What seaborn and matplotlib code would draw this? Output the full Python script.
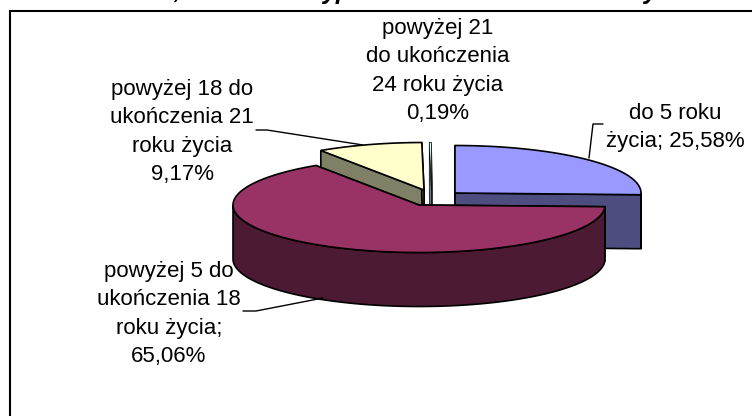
import numpy as np
import seaborn as sns
import matplotlib.pyplot as plt

groups = ['do 5 roku\nżycia; 25,58%',
          'powyżej 5 do\nukończenia 18\nroku życia;\n65,06%',
          'powyżej 18 do\nukończenia 21\nroku życia\n9,17%',
          'powyżej 21\ndo ukończenia\n24 roku życia\n0,19%']
shares = [25.58, 65.06, 9.17, 0.19]
top_colors = ['#9999FF', '#993366', '#FFFFCC', '#CCFFFF']
side_colors = ['#4D4D80', '#4D1A33', '#808066', '#668080']
edge_widths = [1.2, 1.2, 1.2, 0.5]

# only the tails of the cropped title are left in the picture
title_bits = [',', 'yp', 'y']
title_x = [177, 337, 650]

# exploded slice centres, in pixels
centers = [(455, 193), (419, 205), (424, 190), (431.5, 190)]
label_pos = [(675, 127.5), (169, 314), (182, 132), (438, 71)]
leaders = [[(589, 158), (593, 124), (603, 124)],
           [(243, 311), (256, 311), (323, 298)],
           [(256, 130), (267, 130), (363, 145)]]

RX, RY, DEPTH = 186, 47.5, 54


def rim(c, a0, a1, drop=0):
    t = np.radians(np.linspace(a0, a1, 200))
    return c[0] + RX * np.sin(t), c[1] - RY * np.cos(t) + drop


def draw_slice(ax, c, a0, a1, top, side, lw, z):
    # cut faces first
    for a in (a0, a1):
        x, y = rim(c, a, a)
        ax.fill([c[0], x[0], x[0], c[0]], [c[1], y[0], y[0] + DEPTH, c[1] + DEPTH],
                color=side, ec='black', lw=lw, zorder=z)
    # front wall, only where the rim faces the viewer
    lo, hi = max(a0, 90), min(a1, 270)
    if lo < hi:
        x, y = rim(c, lo, hi)
        xb, yb = rim(c, hi, lo, DEPTH)
        ax.fill(np.r_[x, xb], np.r_[y, yb], color=side, ec='black', lw=lw, zorder=z)
    x, y = rim(c, a0, a1)
    ax.fill(np.r_[c[0], x], np.r_[c[1], y], color=top, ec='black', lw=lw, zorder=z + 0.5)


sns.set_theme(style='white')
plt.rcParams['font.family'] = ['Liberation Sans', 'DejaVu Sans']

fig, ax = plt.subplots(figsize=(7.52, 4.16), dpi=100)
fig.subplots_adjust(0, 0, 1, 1)
ax.set_xlim(0, 752)
ax.set_ylim(416, 0)
ax.axis('off')

angles = np.r_[0, np.cumsum(shares)] * 3.6
order = [0, 2, 3, 1]
for z, i in enumerate(order):
    draw_slice(ax, centers[i], angles[i], angles[i + 1], top_colors[i], side_colors[i],
               edge_widths[i], 2 + z)

for pts in leaders:
    xs, ys = zip(*pts)
    ax.plot(xs, ys, color='black', lw=1, zorder=8)

for txt, (x, y) in zip(groups, label_pos):
    ax.text(x, y, txt, ha='center', va='center', fontsize=16, color='black',
            linespacing=1.47, zorder=9)

for txt, x in zip(title_bits, title_x):
    ax.text(x, -1.5, txt, ha='center', va='baseline', fontsize=18, fontweight='bold',
            fontstyle='italic', color='black', clip_on=False)

# chart frame, runs off the right and bottom of the crop
ax.plot([9.5, 9.5], [416, 11], color='black', lw=1.5, zorder=10)
ax.plot([9.5, 752], [11, 11], color='black', lw=1.5, zorder=10)

plt.savefig('out.png', dpi=100)
